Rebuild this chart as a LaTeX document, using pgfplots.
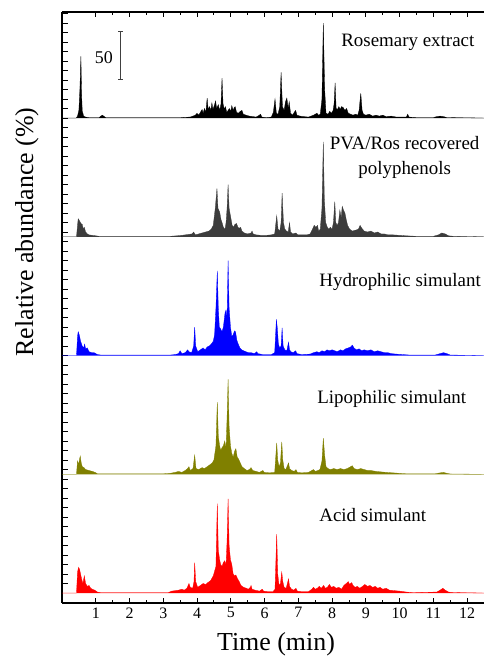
\documentclass[border=0pt]{standalone}
\usepackage{fontspec}
\setmainfont{Liberation Serif}
\usepackage{pgfplots}
\usepackage{pgfplotstable}
\pgfplotsset{compat=1.18}

\definecolor{pvagray}{RGB}{60,60,60}
\definecolor{olivetr}{RGB}{128,128,0}

% time (min), relative abundance above the trace's own baseline
\pgfplotstableread[row sep=\\]{t a\\
0 0\\ 0.42 0\\ 0.46 2\\ 0.5 8\\ 0.53 30\\ 0.56 65\\ 0.58 25\\ 0.6 7\\ 0.62 5\\ 0.64 2\\ 0.7 1\\ 0.8 0.5\\
1.1 0.5\\ 1.15 2\\ 1.2 3\\ 1.25 1.5\\ 1.3 0.5\\ 2.0 0.5\\ 3.5 0.5\\ 3.8 1\\ 3.95 3\\ 4.0 5\\ 4.05 3\\
4.1 6\\ 4.15 9\\ 4.18 5\\ 4.22 10\\ 4.26 6\\ 4.3 21\\ 4.33 9\\ 4.37 12\\ 4.41 8\\ 4.44 16\\ 4.47 9\\
4.51 13\\ 4.55 18\\ 4.58 10\\ 4.63 14\\ 4.67 8\\ 4.71 15\\ 4.74 42\\ 4.77 15\\ 4.81 9\\ 4.84 12\\
4.88 6\\ 4.92 8\\ 4.96 10\\ 5.0 7\\ 5.03 13\\ 5.07 8\\ 5.1 11\\ 5.13 12\\ 5.17 6\\ 5.22 5\\ 5.28 7\\
5.33 8\\ 5.37 4\\ 5.45 3\\ 5.55 2\\ 5.65 1.5\\ 5.75 1\\ 5.85 3\\ 5.88 4\\ 5.92 1\\ 6.05 0.5\\ 6.2 1\\
6.26 6\\ 6.31 20\\ 6.35 5\\ 6.4 4\\ 6.45 12\\ 6.49 48\\ 6.53 12\\ 6.58 8\\ 6.62 17\\ 6.66 21\\ 6.7 10\\
6.73 17\\ 6.77 5\\ 6.83 3\\ 6.88 6\\ 6.92 8\\ 6.96 3\\ 7.05 2\\ 7.15 1.5\\ 7.3 1\\ 7.45 3\\ 7.5 4\\
7.55 5\\ 7.6 3\\ 7.65 4\\ 7.7 20\\ 7.74 100\\ 7.78 30\\ 7.82 5\\ 7.88 4\\ 7.93 7\\ 7.98 5\\ 8.03 8\\
8.06 15\\ 8.09 37\\ 8.12 10\\ 8.16 9\\ 8.2 12\\ 8.24 9\\ 8.28 12\\ 8.33 11\\ 8.38 8\\ 8.43 10\\ 8.48 5\\
8.55 4\\ 8.62 3\\ 8.7 4\\ 8.76 3\\ 8.8 8\\ 8.85 26\\ 8.89 8\\ 8.93 4\\ 9.0 3\\ 9.1 4\\ 9.2 2\\ 9.3 3\\
9.4 2\\ 9.5 3\\ 9.6 1.5\\ 9.75 2\\ 9.9 1\\ 10.0 1\\ 10.2 1\\ 10.24 4\\ 10.28 1\\ 10.5 0.5\\ 11.0 0.5\\
11.1 1.5\\ 11.2 2\\ 11.3 1.5\\ 11.4 0.5\\ 12.5 0\\
}\rosemary

\pgfplotstableread[row sep=\\]{t a\\
0 0\\ 0.43 0\\ 0.46 12\\ 0.48 19\\ 0.5 18\\ 0.53 16\\ 0.56 14\\ 0.6 13\\ 0.63 8\\ 0.66 10\\ 0.7 5\\
0.75 3\\ 0.8 2\\ 0.9 1.5\\ 1.0 1\\ 1.1 0.5\\ 3.2 0.5\\ 3.4 1\\ 3.55 1.5\\ 3.65 2\\ 3.75 2.5\\ 3.85 3\\
3.9 5\\ 3.95 2\\ 4.05 3\\ 4.15 4\\ 4.25 5\\ 4.35 6\\ 4.42 8\\ 4.48 12\\ 4.54 30\\ 4.59 51\\ 4.62 30\\
4.67 26\\ 4.71 18\\ 4.74 15\\ 4.78 10\\ 4.83 8\\ 4.86 15\\ 4.89 30\\ 4.92 55\\ 4.95 30\\ 5.0 20\\
5.04 12\\ 5.08 10\\ 5.12 13\\ 5.17 14\\ 5.21 10\\ 5.25 9\\ 5.29 10\\ 5.33 6\\ 5.4 4\\ 5.5 3\\ 5.6 4\\
5.63 6\\ 5.66 3\\ 5.75 2\\ 5.9 1.5\\ 6.05 1.5\\ 6.2 2\\ 6.3 3\\ 6.36 22\\ 6.4 8\\ 6.45 6\\ 6.49 15\\
6.52 46\\ 6.56 15\\ 6.6 8\\ 6.65 6\\ 6.7 5\\ 6.74 15\\ 6.77 5\\ 6.83 3\\ 6.93 4\\ 6.98 2\\ 7.1 2\\
7.25 2\\ 7.35 3\\ 7.42 8\\ 7.47 12\\ 7.52 10\\ 7.57 12\\ 7.6 6\\ 7.65 8\\ 7.7 30\\ 7.74 100\\ 7.77 40\\
7.81 15\\ 7.86 10\\ 7.9 8\\ 7.95 10\\ 8.0 8\\ 8.04 15\\ 8.08 37\\ 8.11 15\\ 8.15 12\\ 8.19 15\\
8.23 28\\ 8.27 20\\ 8.3 32\\ 8.34 28\\ 8.38 25\\ 8.42 18\\ 8.46 12\\ 8.52 8\\ 8.6 6\\ 8.7 7\\ 8.78 8\\
8.83 12\\ 8.88 9\\ 8.95 6\\ 9.05 5\\ 9.15 6\\ 9.25 4\\ 9.35 5\\ 9.45 3\\ 9.55 3\\ 9.65 2\\ 9.8 2\\
10.0 1.5\\ 10.2 1\\ 10.5 0.5\\ 11.0 0.5\\ 11.15 2\\ 11.25 4\\ 11.35 3\\ 11.45 1\\ 11.6 0.5\\ 12.5 0\\
}\pvaros

\pgfplotstableread[row sep=\\]{t a\\
0 0\\ 0.43 0\\ 0.46 20\\ 0.48 25\\ 0.51 22\\ 0.55 15\\ 0.6 10\\ 0.64 8\\ 0.67 12\\ 0.7 7\\ 0.75 8\\
0.8 4\\ 0.88 3\\ 0.95 3\\ 1.05 1\\ 1.15 0.5\\ 3.2 0.5\\ 3.35 1\\ 3.45 2\\ 3.5 5\\ 3.55 2\\ 3.65 3\\
3.72 6\\ 3.76 4\\ 3.84 3\\ 3.9 10\\ 3.93 30\\ 3.96 10\\ 4.02 4\\ 4.1 6\\ 4.18 8\\ 4.24 6\\ 4.3 9\\
4.36 10\\ 4.42 12\\ 4.48 15\\ 4.52 22\\ 4.56 50\\ 4.6 89\\ 4.63 50\\ 4.66 30\\ 4.7 28\\ 4.74 25\\
4.78 30\\ 4.83 45\\ 4.86 48\\ 4.89 40\\ 4.92 100\\ 4.95 50\\ 4.99 30\\ 5.03 20\\ 5.07 22\\ 5.11 26\\
5.14 25\\ 5.18 16\\ 5.22 12\\ 5.27 8\\ 5.32 6\\ 5.38 5\\ 5.45 4\\ 5.52 3\\ 5.6 3\\ 5.7 2\\ 5.77 4\\
5.8 2\\ 5.95 1\\ 6.2 1\\ 6.3 3\\ 6.35 38\\ 6.38 28\\ 6.41 12\\ 6.45 8\\ 6.49 10\\ 6.52 29\\ 6.55 10\\
6.6 6\\ 6.66 5\\ 6.71 14\\ 6.74 6\\ 6.78 4\\ 6.85 3\\ 6.92 5\\ 6.96 2\\ 7.1 1\\ 7.35 1.5\\ 7.45 3\\
7.55 4\\ 7.62 3\\ 7.7 5\\ 7.78 4\\ 7.85 6\\ 7.92 5\\ 8.0 6\\ 8.08 5\\ 8.15 4\\ 8.25 6\\ 8.32 5\\
8.4 7\\ 8.48 8\\ 8.55 9\\ 8.6 11\\ 8.65 8\\ 8.72 6\\ 8.8 7\\ 8.88 5\\ 8.95 6\\ 9.05 5\\ 9.15 6\\
9.25 4\\ 9.35 5\\ 9.45 4\\ 9.55 3\\ 9.65 3\\ 9.75 2\\ 9.9 1.5\\ 10.1 1\\ 10.3 0.5\\ 11.05 0.5\\
11.2 2\\ 11.3 3\\ 11.4 2\\ 11.5 0.5\\ 12.5 0\\
}\hydro

\pgfplotstableread[row sep=\\]{t a\\
0 0\\ 0.43 0\\ 0.46 14\\ 0.49 10\\ 0.52 16\\ 0.54 19\\ 0.57 12\\ 0.6 8\\ 0.65 7\\ 0.7 5\\ 0.8 4\\
0.9 3\\ 0.98 2\\ 1.05 0.5\\ 3.0 0.5\\ 3.2 1\\ 3.35 2\\ 3.45 3\\ 3.55 2\\ 3.65 4\\ 3.72 6\\ 3.76 8\\
3.8 4\\ 3.88 6\\ 3.93 20\\ 3.97 6\\ 4.05 5\\ 4.15 7\\ 4.22 6\\ 4.3 8\\ 4.38 10\\ 4.45 12\\ 4.5 15\\
4.56 30\\ 4.6 76\\ 4.63 40\\ 4.67 30\\ 4.7 25\\ 4.74 28\\ 4.78 30\\ 4.82 35\\ 4.86 28\\ 4.89 60\\
4.92 100\\ 4.95 50\\ 4.99 30\\ 5.03 22\\ 5.07 18\\ 5.11 24\\ 5.15 27\\ 5.19 18\\ 5.23 16\\ 5.28 12\\
5.33 8\\ 5.4 6\\ 5.48 4\\ 5.55 5\\ 5.6 7\\ 5.65 4\\ 5.75 3\\ 5.85 2\\ 5.95 4\\ 5.99 2\\ 6.15 1.5\\
6.3 2\\ 6.36 33\\ 6.39 15\\ 6.43 8\\ 6.47 12\\ 6.51 34\\ 6.54 15\\ 6.58 6\\ 6.63 5\\ 6.71 12\\
6.74 6\\ 6.8 4\\ 6.88 3\\ 6.93 5\\ 6.97 2\\ 7.1 1.5\\ 7.3 2\\ 7.4 4\\ 7.45 5\\ 7.5 3\\ 7.58 4\\
7.64 5\\ 7.7 14\\ 7.74 38\\ 7.78 20\\ 7.82 8\\ 7.88 6\\ 7.95 5\\ 8.05 6\\ 8.15 5\\ 8.25 6\\ 8.35 5\\
8.45 6\\ 8.55 8\\ 8.6 9\\ 8.65 6\\ 8.75 5\\ 8.85 6\\ 8.95 5\\ 9.05 4\\ 9.15 4\\ 9.3 3\\ 9.45 2.5\\
9.6 2\\ 9.8 1.5\\ 10.0 1\\ 10.2 0.5\\ 11.05 0.5\\ 11.2 1.5\\ 11.3 2\\ 11.4 1\\ 11.5 0.3\\ 12.5 0\\
}\lipo

\pgfplotstableread[row sep=\\]{t a\\
0 0\\ 0.43 0\\ 0.46 22\\ 0.49 27\\ 0.52 25\\ 0.55 20\\ 0.58 15\\ 0.62 10\\ 0.66 18\\ 0.7 10\\
0.75 7\\ 0.8 8\\ 0.85 5\\ 0.9 4\\ 0.97 3\\ 1.05 1\\ 1.15 0.5\\ 3.15 0.5\\ 3.25 2\\ 3.35 2.5\\
3.45 3\\ 3.55 4\\ 3.62 3\\ 3.7 5\\ 3.76 10\\ 3.8 6\\ 3.87 5\\ 3.91 12\\ 3.93 32\\ 3.96 12\\ 4.02 6\\
4.1 8\\ 4.18 10\\ 4.26 9\\ 4.32 11\\ 4.4 13\\ 4.48 18\\ 4.56 28\\ 4.6 94\\ 4.63 45\\ 4.67 35\\
4.7 30\\ 4.74 28\\ 4.78 32\\ 4.82 34\\ 4.86 30\\ 4.89 55\\ 4.92 99\\ 4.95 50\\ 4.99 35\\ 5.03 30\\
5.07 20\\ 5.11 18\\ 5.15 19\\ 5.2 15\\ 5.25 12\\ 5.3 8\\ 5.38 6\\ 5.46 5\\ 5.52 4\\ 5.58 6\\ 5.6 8\\
5.63 4\\ 5.72 3\\ 5.85 2\\ 5.93 4\\ 5.97 2\\ 6.1 1.5\\ 6.25 1.5\\ 6.31 4\\ 6.36 62\\ 6.39 20\\
6.43 8\\ 6.47 10\\ 6.51 22\\ 6.54 12\\ 6.58 6\\ 6.64 5\\ 6.71 15\\ 6.74 7\\ 6.8 4\\ 6.87 3\\ 6.93 5\\
6.97 2\\ 7.1 1.5\\ 7.3 1.5\\ 7.4 4\\ 7.45 6\\ 7.5 4\\ 7.56 5\\ 7.62 7\\ 7.68 5\\ 7.75 8\\ 7.8 5\\
7.86 6\\ 7.92 9\\ 7.98 6\\ 8.05 7\\ 8.12 5\\ 8.2 6\\ 8.28 4\\ 8.35 8\\ 8.42 10\\ 8.48 12\\ 8.52 9\\
8.58 11\\ 8.62 8\\ 8.68 6\\ 8.75 7\\ 8.82 5\\ 8.9 7\\ 8.97 9\\ 9.05 7\\ 9.12 8\\ 9.2 6\\ 9.28 7\\
9.35 5\\ 9.42 6\\ 9.5 4\\ 9.6 5\\ 9.7 3\\ 9.85 2.5\\ 10.0 2\\ 10.2 1\\ 10.4 0.5\\ 11.1 1\\ 11.2 3\\
11.28 5\\ 11.35 3\\ 11.45 1\\ 11.6 0.5\\ 12.5 0\\
}\acid

\begin{document}
\begin{tikzpicture}
\begin{axis}[
  scale only axis,
  width=422bp, height=591bp,
  xmin=0, xmax=12.5,
  ymin=-10.5, ymax=611.6,
  axis x line*=box,
  axis y line*=left,
  xtick={1,...,12},
  minor x tick num=1,
  xticklabel pos=lower,
  ytick={10,20,...,610},
  yticklabels={},
  tick align=inside,
  major tick length=5.5bp,
  minor tick length=3.5bp,
  every tick/.style={black, line width=0.9bp},
  axis line style={line width=1.1bp},
  tick label style={font=\fontsize{16}{18}\selectfont},
  /pgf/number format/assume math mode=true,
  xticklabel style={yshift=-1bp},
  no markers,
  clip=true,
]
\addplot[fill=black, draw=black, line width=0.3bp] table[x=t, y expr=\thisrow{a}+500] {\rosemary};
\addplot[fill=pvagray, draw=pvagray, line width=0.3bp] table[x=t, y expr=\thisrow{a}+375] {\pvaros};
\addplot[fill=blue, draw=blue, line width=0.3bp] table[x=t, y expr=\thisrow{a}+250] {\hydro};
\addplot[fill=olivetr, draw=olivetr, line width=0.3bp] table[x=t, y expr=\thisrow{a}+125] {\lipo};
\addplot[fill=red, draw=red, line width=0.3bp] table[x=t, y expr=\thisrow{a}] {\acid};

% scale bar
\draw[line width=1.1bp, black!75] (axis cs:1.74,541) -- (axis cs:1.74,591);
\draw[line width=1.1bp, black!75] (axis cs:1.66,541) -- (axis cs:1.82,541);
\draw[line width=1.1bp, black!75] (axis cs:1.66,591) -- (axis cs:1.82,591);
\node[font=\fontsize{18}{20}\selectfont] at (axis cs:1.24,564) {50};

\node[anchor=west, font=\fontsize{19}{22}\selectfont] at (axis cs:8.17,580) {Rosemary extract};
\node[align=center, font=\fontsize{19}{25}\selectfont] at (axis cs:10.15,458) {PVA/Ros recovered\\polyphenols};
\node[anchor=west, font=\fontsize{19}{22}\selectfont] at (axis cs:7.52,327) {Hydrophilic simulant};
\node[anchor=west, font=\fontsize{19}{22}\selectfont] at (axis cs:7.46,204) {Lipophilic simulant};
\node[anchor=west, font=\fontsize{19}{22}\selectfont] at (axis cs:7.52,82) {Acid simulant};
\end{axis}
\node[font=\fontsize{26}{30}\selectfont] at ([xshift=3bp, yshift=-41bp]current axis.south) {Time (min)};
\node[rotate=90, font=\fontsize{26}{30}\selectfont] at ([xshift=-35bp, yshift=-220bp]current axis.north west) {Relative abundance (\%)};
\pgfresetboundingbox
\path ([xshift=-62bp, yshift=-54bp]current axis.south west) rectangle ([yshift=12bp]current axis.north east);
\end{tikzpicture}
\end{document}
